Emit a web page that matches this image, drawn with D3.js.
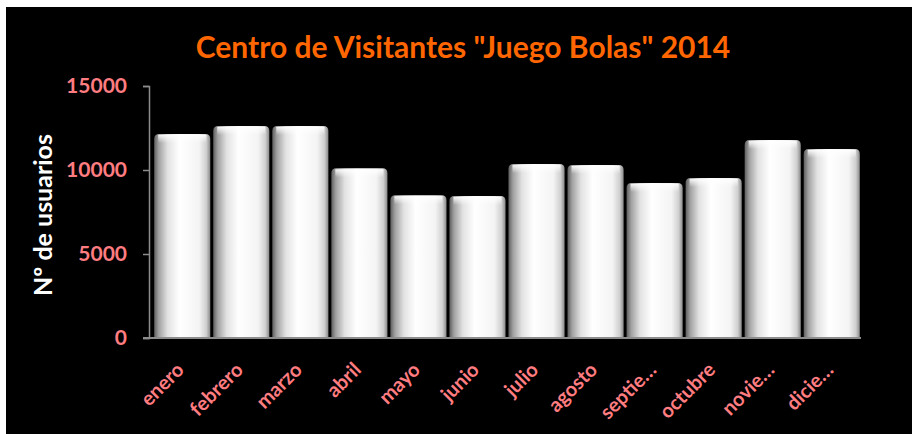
<!DOCTYPE html>
<html>
<head>
<meta charset="utf-8">
<script src="https://cdn.jsdelivr.net/npm/d3@7"></script>
<style>
  body { margin: 0; background: #fff; }
  svg { display: block; }
  .tickText { font-family: Lato, "Open Sans", sans-serif; font-weight: bold; fill: #ff7c80; }
</style>
</head>
<body>
<script>
// chart data
var months = ["enero", "febrero", "marzo", "abril", "mayo", "junio", "julio",
  "agosto", "septie…", "octubre", "novie…", "dicie…"];
var visitors = [12150, 12620, 12620, 10100, 8500, 8450, 10350, 10300, 9230, 9520, 11780, 11250];
var yTicks = [0, 5000, 10000, 15000];

var svgWidth = 912;
var svgHeight = 434;

var svg = d3.select("body")
  .append("svg")
  .attr("width", svgWidth)
  .attr("height", svgHeight);

// black chart area with a thin white edge
svg.append("rect")
  .attr("x", 6)
  .attr("y", 7)
  .attr("width", svgWidth - 6)
  .attr("height", svgHeight - 7)
  .attr("fill", "#000");

// bar shading
var defs = svg.append("defs");
var grad = defs.append("linearGradient")
  .attr("id", "barShade")
  .attr("x1", "0%").attr("x2", "100%")
  .attr("y1", "0%").attr("y2", "0%");
[[0, "#5e5e5e"], [0.08, "#a0a0a0"], [0.24, "#e2e2e2"], [0.45, "#ffffff"],
 [0.8, "#f4f4f4"], [0.93, "#cfcfcf"], [1, "#8a8a8a"]].forEach(function(s) {
  grad.append("stop").attr("offset", s[0]).attr("stop-color", s[1]);
});
var capGrad = defs.append("linearGradient")
  .attr("id", "capShade")
  .attr("x1", "0%").attr("x2", "0%")
  .attr("y1", "0%").attr("y2", "100%");
capGrad.append("stop").attr("offset", 0).attr("stop-color", "#fff").attr("stop-opacity", 0.9);
capGrad.append("stop").attr("offset", 1).attr("stop-color", "#fff").attr("stop-opacity", 0);

var plotLeft = 149;
var plotTop = 86;
var plotBottom = 338;

// scales
var xScale = d3.scaleBand()
  .domain(months)
  .range([153, 861])
  .paddingInner(0.05)
  .paddingOuter(0.02);

var yScale = d3.scaleLinear()
  .domain([0, 15000])
  .range([plotBottom, plotTop]);

// bars
var bars = svg.append("g");
bars.selectAll("path.bar")
  .data(visitors)
  .enter()
  .append("path")
  .attr("class", "bar")
  .attr("fill", "url(#barShade)")
  .attr("d", function(d, i) {
    var x0 = xScale(months[i]);
    var w = xScale.bandwidth();
    var y0 = yScale(d);
    var r = 5;
    return "M" + x0 + "," + plotBottom +
      "V" + (y0 + r) +
      "Q" + x0 + "," + y0 + " " + (x0 + r) + "," + y0 +
      "H" + (x0 + w - r) +
      "Q" + (x0 + w) + "," + y0 + " " + (x0 + w) + "," + (y0 + r) +
      "V" + plotBottom + "Z";
  });

bars.selectAll("rect.cap")
  .data(visitors)
  .enter()
  .append("rect")
  .attr("class", "cap")
  .attr("x", (d, i) => xScale(months[i]) + 4)
  .attr("y", d => yScale(d) + 1)
  .attr("width", xScale.bandwidth() - 8)
  .attr("height", 8)
  .attr("fill", "url(#capShade)");

// y axis
var leftAxis = d3.axisLeft(yScale)
  .tickValues(yTicks)
  .tickSize(6)
  .tickPadding(16)
  .tickFormat(d3.format("d"));

var yAxisG = svg.append("g")
  .attr("transform", `translate(${plotLeft}, 0)`)
  .call(leftAxis);
yAxisG.select(".domain").attr("stroke", "#8c8c8c").attr("stroke-width", 1.5);
yAxisG.selectAll(".tick line").attr("stroke", "#8c8c8c").attr("stroke-width", 1.5);
yAxisG.selectAll(".tick text")
  .attr("class", "tickText")
  .attr("font-size", "21px");

// x axis
var bottomAxis = d3.axisBottom(xScale).tickSize(0).tickPadding(0);
var xAxisG = svg.append("g")
  .attr("transform", `translate(0, ${plotBottom})`)
  .call(bottomAxis);
xAxisG.select(".domain")
  .attr("d", `M${plotLeft - 6},0H${xScale.range()[1]}`)
  .attr("stroke", "#8c8c8c")
  .attr("stroke-width", 2);
xAxisG.selectAll(".tick text")
  .attr("class", "tickText")
  .attr("font-size", "20px")
  .attr("text-anchor", "end")
  .attr("dy", 0)
  .attr("transform", "translate(3, 33) rotate(-45)");

// title
svg.append("text")
  .attr("x", 463)
  .attr("y", 58)
  .attr("text-anchor", "middle")
  .attr("font-family", "Lato, 'Open Sans', sans-serif")
  .attr("font-weight", "bold")
  .attr("font-size", "30px")
  .attr("fill", "#ff6600")
  .text("Centro de Visitantes \"Juego Bolas\" 2014");

// y axis title
svg.append("text")
  .attr("transform", "rotate(-90)")
  .attr("x", -215)
  .attr("y", 52)
  .attr("text-anchor", "middle")
  .attr("font-family", "Lato, 'Open Sans', sans-serif")
  .attr("font-weight", "bold")
  .attr("font-size", "25px")
  .attr("fill", "#fff")
  .text("Nº de usuarios");
</script>
</body>
</html>
